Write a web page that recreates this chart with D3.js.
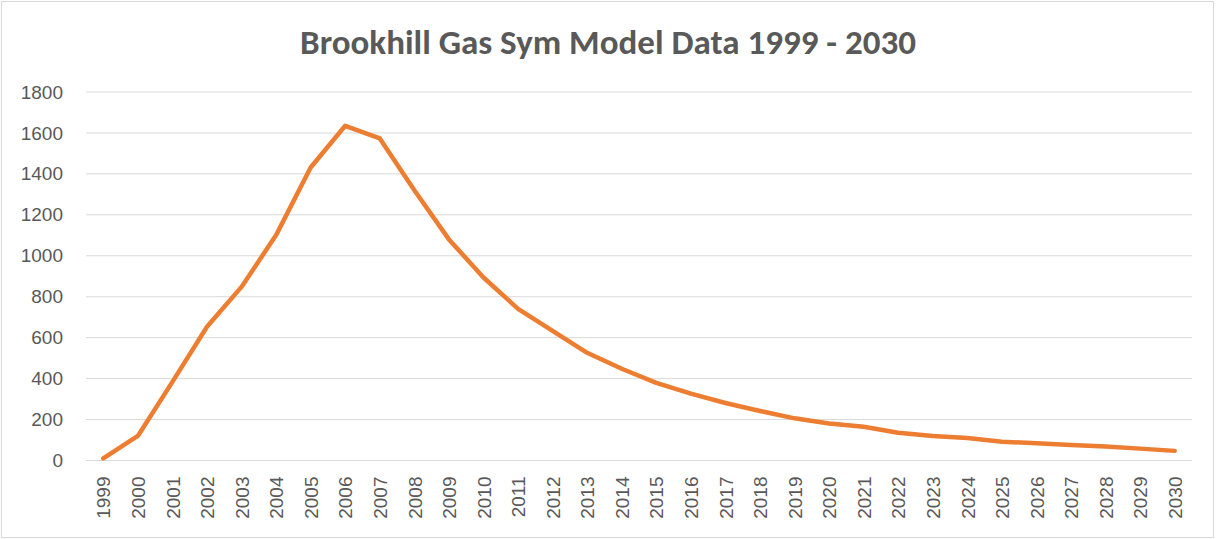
<!DOCTYPE html>
<html>
<head>
<meta charset="utf-8">
<script src="https://cdn.jsdelivr.net/npm/d3@7"></script>
<style>
  html, body { margin: 0; padding: 0; background: #fff; }
  svg { display: block; }
</style>
</head>
<body>
<svg width="1216" height="539"></svg>
<script>
// chart data
var years = ['1999','2000','2001','2002','2003','2004','2005','2006','2007','2008',
             '2009','2010','2011','2012','2013','2014','2015','2016','2017','2018',
             '2019','2020','2021','2022','2023','2024','2025','2026','2027','2028',
             '2029','2030'];
var gasValues = [10, 120, 384, 653, 848, 1101, 1431, 1635, 1573, 1320,
                 1080, 894, 741, 633, 526, 448, 379, 327, 281, 242,
                 206, 181, 165, 136, 120, 110, 92, 84, 76, 68,
                 58, 47];
var yTicks = [0, 200, 400, 600, 800, 1000, 1200, 1400, 1600, 1800];
var chartTitle = 'Brookhill Gas Sym Model Data 1999 - 2030';

var svg = d3.select('svg'),
    width = +svg.attr('width'),
    height = +svg.attr('height');

var plot = {left: 86, right: 1192, top: 92, bottom: 460.5};
var labelColor = '#595959';
var titleFont = 'Calibri, Carlito, Lato, "Open Sans", sans-serif';
var tickFont = '"Liberation Sans", Arial, sans-serif';

// outer chart border
svg.append('rect')
    .attr('x', 1.5).attr('y', 1.5)
    .attr('width', width - 4).attr('height', height - 3)
    .attr('fill', '#fff')
    .attr('stroke', '#d9d9d9')
    .attr('stroke-width', 1);

var x = d3.scalePoint().domain(years).range([plot.left, plot.right]).padding(0.5);
var y = d3.scaleLinear().domain([0, 1800]).range([plot.bottom, plot.top]);

// horizontal gridlines
svg.append('g').attr('class', 'grid')
    .selectAll('line')
    .data(yTicks).enter().append('line')
    .attr('x1', plot.left).attr('x2', plot.right)
    .attr('y1', function(d) { return y(d); })
    .attr('y2', function(d) { return y(d); })
    .attr('stroke', '#d9d9d9')
    .attr('stroke-width', 1);

// y axis labels
var yAxis = svg.append('g')
    .attr('transform', 'translate(' + 63 + ',0)')
    .call(d3.axisLeft(y).tickValues(yTicks).tickFormat(d3.format('d')).tickSize(0).tickPadding(0));
yAxis.select('.domain').remove();
yAxis.selectAll('text')
    .attr('fill', labelColor)
    .attr('font-family', tickFont)
    .attr('font-size', 19);

// x axis labels, rotated
var xAxis = svg.append('g')
    .attr('transform', 'translate(0,' + plot.bottom + ')')
    .call(d3.axisBottom(x).tickSize(0).tickPadding(0));
xAxis.select('.domain').remove();
xAxis.selectAll('text')
    .attr('fill', labelColor)
    .attr('font-family', tickFont)
    .attr('font-size', 19)
    .attr('text-anchor', 'end')
    .attr('transform', 'rotate(-90)')
    .attr('x', -16)
    .attr('y', 0)
    .attr('dy', '0.35em');

// the series line
var line = d3.line()
    .x(function(d, i) { return x(years[i]); })
    .y(function(d) { return y(d); });

svg.append('path')
    .datum(gasValues)
    .attr('fill', 'none')
    .attr('stroke', '#ED7D31')
    .attr('stroke-width', 4.5)
    .attr('stroke-linejoin', 'round')
    .attr('stroke-linecap', 'round')
    .attr('d', line);

// title
svg.append('text')
    .attr('x', 608)
    .attr('y', 54)
    .attr('text-anchor', 'middle')
    .attr('fill', labelColor)
    .attr('font-family', titleFont)
    .attr('font-weight', 'bold')
    .attr('font-size', 35)
    .text(chartTitle);
</script>
</body>
</html>
